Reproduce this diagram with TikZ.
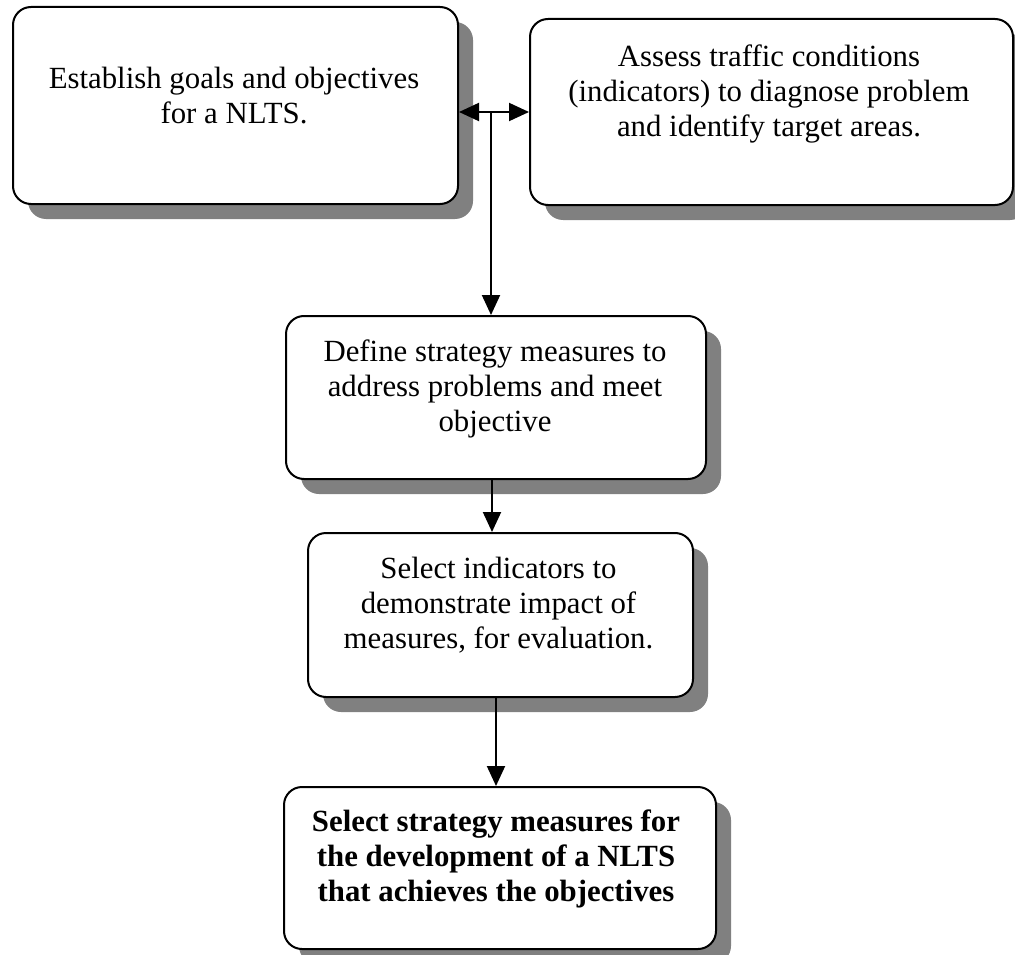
\documentclass[tikz,border=0pt]{standalone}
\usepackage{fontspec}
\setmainfont{Liberation Serif}
\usetikzlibrary{arrows.meta,shadows}
\begin{document}
\begin{tikzpicture}[x=1pt,y=-1pt,
  box/.style={draw=black, line width=2pt, fill=white, rounded corners=18pt,
    anchor=north west, inner sep=0pt,
    drop shadow={shadow xshift=15pt, shadow yshift=-15pt, fill=black!50, opacity=1}},
  txt/.style={anchor=north, inner sep=0pt, align=center,
    font=\fontsize{30.8}{35}\selectfont},
  conn/.style={line width=2pt, -{Triangle[length=20pt,width=18pt]}},
  dconn/.style={line width=2pt, {Triangle[length=20pt,width=18pt]}-{Triangle[length=20pt,width=18pt]}}
]
\fill[white, use as bounding box] (0,0) rectangle (1015,955);

\node[box, minimum width=445pt, minimum height=197pt] (b1) at (12,6) {};
\node[box, minimum width=483pt, minimum height=186pt] (b2) at (529,18) {};
\node[box, minimum width=420pt, minimum height=163pt] (b3) at (285,315) {};
\node[box, minimum width=385pt, minimum height=164pt] (b4) at (307,532) {};
\node[box, minimum width=432pt, minimum height=162pt] (b5) at (283,786) {};

\node[txt] (t1) at (234,67) {Establish goals and objectives\\for a NLTS.};
\node[txt] (t2) at (769,45) {Assess traffic conditions\\(indicators) to diagnose problem\\and identify target areas.};
\node[txt] (t3) at (495,340) {Define strategy measures to\\address problems and meet\\objective};
\node[txt] (t4) at (498.5,557) {Select indicators to\\demonstrate impact of\\measures, for evaluation.};
\node[txt, font=\fontsize{30.8}{35}\selectfont\bfseries] (t5) at (496,810) {Select strategy measures for\\the development of a NLTS\\that achieves the objectives};

\coordinate (j) at (491,112);
\draw[dconn] (j -| b1.east) -- (j -| b2.west);
\draw[conn] (j) -- (j |- b3.north);
\draw[conn] ([xshift=-4pt]b3.south) -- ([xshift=-4pt]b3.south |- b4.north);
\draw[conn] ([xshift=-4.5pt]b4.south) -- ([xshift=-4.5pt]b4.south |- b5.north);
\end{tikzpicture}
\end{document}
